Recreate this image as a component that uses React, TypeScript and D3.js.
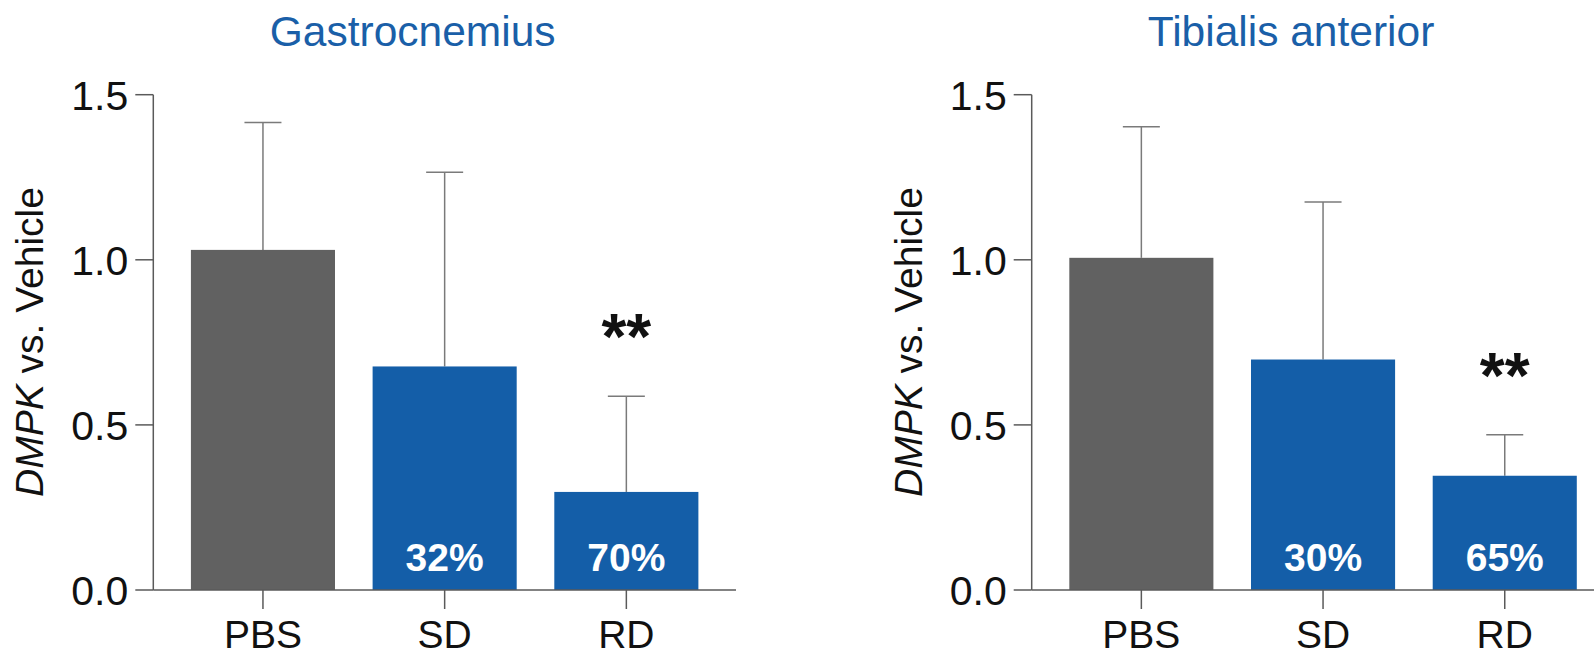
import React from "react";
import * as d3 from "d3";

const categories = ["PBS", "SD", "RD"];
const panelTitles = ["Gastrocnemius", "Tibialis anterior"];
const gastroMeans = [1.03, 0.677, 0.297];
const gastroErrors = [0.386, 0.588, 0.29];
const tibialisMeans = [1.006, 0.698, 0.346];
const tibialisErrors = [0.397, 0.477, 0.124];
const gastroPercents = ["", "32%", "70%"];
const tibialisPercents = ["", "30%", "65%"];
const gastroSignif = ["", "", "**"];
const tibialisSignif = ["", "", "**"];
const yTicks = [0, 0.5, 1.0, 1.5];

const FONT = '"Liberation Sans", Arial, Helvetica, sans-serif';
const GRAY = "#616161";
const BLUE = "#145ea8";
const TITLE_BLUE = "#1a5fa8";
const AXIS = "#5a5a5a";
const ERR = "#7a7a7a";

const W = 1594;
const H = 653;

type PanelProps = {
  axisX: number;
  title: string;
  means: number[];
  errors: number[];
  percents: string[];
  signif: string[];
  axisEnd: number;
};

function Panel({ axisX, title, means, errors, percents, signif, axisEnd }: PanelProps) {
  const y = d3.scaleLinear().domain([0, 1.5]).range([590, 94.7]);
  const x = d3
    .scaleBand<string>()
    .domain(categories)
    .range([axisX, axisX + 582.7])
    .padding(0.207);
  const bw = x.bandwidth();
  const capHalf = 18.5;
  const barsCenter = (x(categories[0])! + x(categories[categories.length - 1])! + bw) / 2;
  const y0 = y(0);
  return (
    <g>
      <text
        x={barsCenter - 32}
        y={46}
        textAnchor="middle"
        fontFamily={FONT}
        fontSize={42.5}
        fill={TITLE_BLUE}
      >
        {title}
      </text>
      {/* y label */}
      <text
        transform={`translate(${axisX - 110},${342}) rotate(-90)`}
        textAnchor="middle"
        fontFamily={FONT}
        fontSize={39}
        fill="#111"
      >
        <tspan fontStyle="italic">DMPK</tspan>
        <tspan> vs. Vehicle</tspan>
      </text>
      {/* bars */}
      {categories.map((c, i) => {
        const bx = x(c)!;
        const cx = bx + bw / 2;
        const top = y(means[i]);
        const et = y(means[i] + errors[i]);
        return (
          <g key={c}>
            <line x1={cx} x2={cx} y1={top} y2={et} stroke={ERR} strokeWidth={1.5} />
            <line x1={cx - capHalf} x2={cx + capHalf} y1={et} y2={et} stroke={ERR} strokeWidth={1.5} />
            <rect x={bx} y={top} width={bw} height={y0 - top} fill={i === 0 ? GRAY : BLUE} />
            {percents[i] && (
              <text
                x={cx}
                y={570.5}
                textAnchor="middle"
                fontFamily={FONT}
                fontWeight="bold"
                fontSize={39}
                fill="#ffffff"
              >
                {percents[i]}
              </text>
            )}
            {signif[i] && (
              <text
                x={cx}
                y={et - 37}
                textAnchor="middle"
                fontFamily={FONT}
                fontWeight="bold"
                fontSize={64}
                fill="#111"
              >
                {signif[i]}
              </text>
            )}
            <line x1={cx} x2={cx} y1={y0} y2={y0 + 19} stroke={AXIS} strokeWidth={1.5} />
            <text
              x={cx}
              y={648}
              textAnchor="middle"
              fontFamily={FONT}
              fontSize={39}
              fill="#111"
            >
              {c}
            </text>
          </g>
        );
      })}
      {/* axes */}
      <line x1={axisX} x2={axisX} y1={y(1.5)} y2={y0} stroke={AXIS} strokeWidth={1.5} />
      <line x1={axisX} x2={axisEnd} y1={y0} y2={y0} stroke={AXIS} strokeWidth={1.5} />
      {yTicks.map((t) => (
        <g key={t}>
          <line x1={axisX - 18} x2={axisX} y1={y(t)} y2={y(t)} stroke={AXIS} strokeWidth={1.5} />
          <text
            x={axisX - 25}
            y={y(t) + 15}
            textAnchor="end"
            fontFamily={FONT}
            fontSize={41}
            fill="#111"
          >
            {d3.format(".1f")(t)}
          </text>
        </g>
      ))}
    </g>
  );
}

export default function App() {
  return (
    <svg
      width={W}
      height={H}
      style={{ position: "absolute", left: 0, top: 0, background: "#fff" }}
    >
      <rect x={0} y={0} width={W} height={H} fill="#fff" />
      <Panel
        axisX={153.3}
        title={panelTitles[0]}
        means={gastroMeans}
        errors={gastroErrors}
        percents={gastroPercents}
        signif={gastroSignif}
        axisEnd={736}
      />
      <Panel
        axisX={1031.7}
        title={panelTitles[1]}
        means={tibialisMeans}
        errors={tibialisErrors}
        percents={tibialisPercents}
        signif={tibialisSignif}
        axisEnd={1614}
      />
    </svg>
  );
}
